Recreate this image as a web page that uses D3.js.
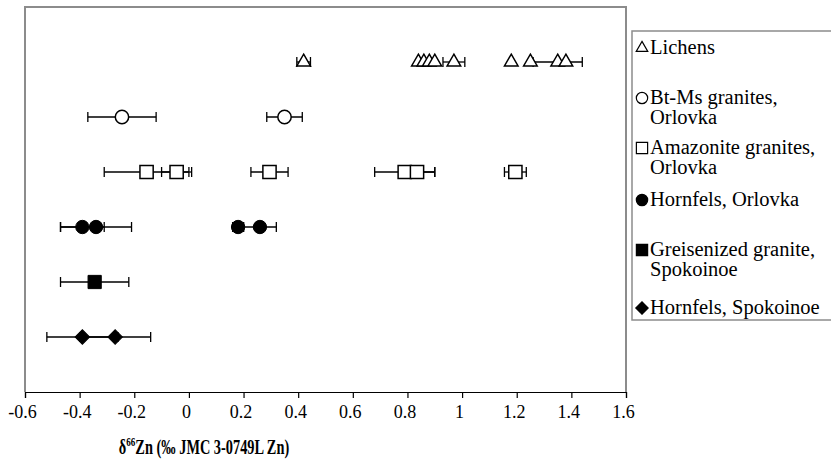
<!DOCTYPE html>
<html>
<head>
<meta charset="utf-8">
<script src="https://cdn.jsdelivr.net/npm/d3@7"></script>
<style>
  body { margin: 0; background: #fff; }
  svg text { font-family: "Liberation Serif", "Times New Roman", Times, serif !important; }
</style>
</head>
<body>
<svg id="chart" width="831" height="465"></svg>
<script>
// tick labels of the x axis
var xTicks = [-0.6, -0.4, -0.2, 0, 0.2, 0.4, 0.6, 0.8, 1, 1.2, 1.4, 1.6];

// legend text, one entry per group (lines)
var legendLabels = [
    ["Lichens"],
    ["Bt-Ms granites,", "Orlovka"],
    ["Amazonite granites,", "Orlovka"],
    ["Hornfels, Orlovka"],
    ["Greisenized granite,", "Spokoinoe"],
    ["Hornfels, Spokoinoe"]
];

// delta66Zn values and error (+/-) for each group
var lichensVals = [0.42, 0.84, 0.86, 0.88, 0.90, 0.97, 1.18, 1.25, 1.35, 1.38];
var lichensErr  = [0.025, 0, 0, 0, 0, 0.04, 0, 0, 0.09, 0];

var btMsVals = [-0.245, 0.35];
var btMsErr  = [0.125, 0.065];

var amazVals = [-0.155, -0.045, 0.295, 0.79, 0.835, 1.195];
var amazErr  = [0.155, 0.055, 0.068, 0.11, 0.065, 0.04];

var hornOrlVals = [-0.39, -0.34, 0.18, 0.26];
var hornOrlErr  = [0.08, 0.13, 0.02, 0.06];

var greisVals = [-0.345];
var greisErr  = [0.125];

var hornSpoVals = [-0.39, -0.27];
var hornSpoErr  = [0.13, 0.13];

// row of each group on the (hidden) y axis
var rows = [6, 5, 4, 3, 2, 1];

var groups = [
    {vals: lichensVals, err: lichensErr, shape: "triangle", filled: false},
    {vals: btMsVals, err: btMsErr, shape: "circle", filled: false},
    {vals: amazVals, err: amazErr, shape: "square", filled: false},
    {vals: hornOrlVals, err: hornOrlErr, shape: "circle", filled: true},
    {vals: greisVals, err: greisErr, shape: "square", filled: true},
    {vals: hornSpoVals, err: hornSpoErr, shape: "diamond", filled: true}
];

var svg = d3.select("#chart");

var margin = {top: 7, left: 25},
    width = 601,
    height = 385;

var x = d3.scaleLinear().domain([-0.6, 1.6]).range([0, width]);
var y = d3.scaleLinear().domain([0, 7]).range([height, 0]);

var g = svg.append("g")
    .attr("transform", "translate(" + margin.left + "," + margin.top + ")");

// plot frame (top, left, right) in grey
g.append("path")
    .attr("d", "M0," + height + "V0H" + width + "V" + height)
    .attr("fill", "none")
    .attr("stroke", "#8c8c8c")
    .attr("stroke-width", 2);

// x axis
var xAxis = d3.axisBottom(x)
    .tickValues(xTicks)
    .tickSize(6)
    .tickFormat(function(d) { return String(Math.round(d * 10) / 10); });

var ax = g.append("g")
    .attr("transform", "translate(0," + height + ")")
    .call(xAxis);
ax.select(".domain").attr("stroke", "#000").attr("stroke-width", 1.2);
ax.selectAll(".tick line").attr("stroke", "#000").attr("stroke-width", 1.2);
ax.selectAll(".tick text")
    .attr("font-size", 18)
    .attr("fill", "#000")
    .attr("x", -3)
    .attr("dy", "0.95em");

// axis title (condensed bold, as in the original figure)
var title = svg.append("text")
    .attr("transform", "translate(204,454) scale(0.7,1)")
    .attr("text-anchor", "middle")
    .attr("font-weight", "bold")
    .attr("font-size", 20.5);
title.append("tspan").text("\u03b4");
title.append("tspan").attr("font-size", 13).attr("dy", -8).text("66");
title.append("tspan").attr("dy", 8).text("Zn (\u2030 JMC 3-0749L Zn)");

function symbolPath(shape) {
    if (shape === "triangle") return d3.symbol().type(d3.symbolTriangle).size(80)();
    if (shape === "circle") return d3.symbol().type(d3.symbolCircle).size(140)();
    if (shape === "square") return d3.symbol().type(d3.symbolSquare).size(175)();
    return d3.symbol().type(d3.symbolSquare).size(105)();
}

var capH = 5;

groups.forEach(function(grp, gi) {
    var cy = y(rows[gi]);
    var pts = grp.vals.map(function(v, i) { return {v: v, e: grp.err[i]}; });
    var withErr = pts.filter(function(d) { return d.e > 0; });

    var eb = g.append("g").attr("stroke", "#000").attr("stroke-width", 1.3);
    eb.selectAll(".bar").data(withErr).enter().append("line")
        .attr("x1", function(d) { return x(d.v - d.e); })
        .attr("x2", function(d) { return x(d.v + d.e); })
        .attr("y1", cy).attr("y2", cy);
    eb.selectAll(".capl").data(withErr).enter().append("line")
        .attr("x1", function(d) { return x(d.v - d.e); })
        .attr("x2", function(d) { return x(d.v - d.e); })
        .attr("y1", cy - capH).attr("y2", cy + capH);
    eb.selectAll(".capr").data(withErr).enter().append("line")
        .attr("x1", function(d) { return x(d.v + d.e); })
        .attr("x2", function(d) { return x(d.v + d.e); })
        .attr("y1", cy - capH).attr("y2", cy + capH);

    g.selectAll(".m" + gi).data(pts).enter().append("path")
        .attr("class", "m" + gi)
        .attr("d", symbolPath(grp.shape))
        .attr("transform", function(d) {
            return "translate(" + x(d.v) + "," + cy + ")" + (grp.shape === "diamond" ? " rotate(45)" : "");
        })
        .attr("fill", grp.filled ? "#000" : "#fff")
        .attr("stroke", "#000")
        .attr("stroke-width", grp.filled ? 1 : 1.5);
});

// legend
var legend = svg.append("g");
legend.append("rect")
    .attr("x", 632).attr("y", 31)
    .attr("width", 210).attr("height", 289)
    .attr("fill", "#fff")
    .attr("stroke", "#8c8c8c")
    .attr("stroke-width", 1.5);

var legendY = [54, 104, 154, 206, 256, 314];

legendLabels.forEach(function(lines, i) {
    var grp = groups[i];
    var ly = legendY[i];
    var s = 0.85;
    legend.append("path")
        .attr("d", symbolPath(grp.shape))
        .attr("transform", "translate(642," + (ly - 6) + ")" + (grp.shape === "diamond" ? " rotate(45)" : "") + " scale(" + s + ")")
        .attr("fill", grp.filled ? "#000" : "#fff")
        .attr("stroke", "#000")
        .attr("stroke-width", 1.4);
    var t = legend.append("text")
        .attr("x", 650).attr("y", ly)
        .attr("font-size", 20.5)
        .attr("fill", "#000");
    lines.forEach(function(line, k) {
        t.append("tspan")
            .attr("x", 650)
            .attr("dy", k === 0 ? 0 : 20)
            .text(line);
    });
});
</script>
</body>
</html>
